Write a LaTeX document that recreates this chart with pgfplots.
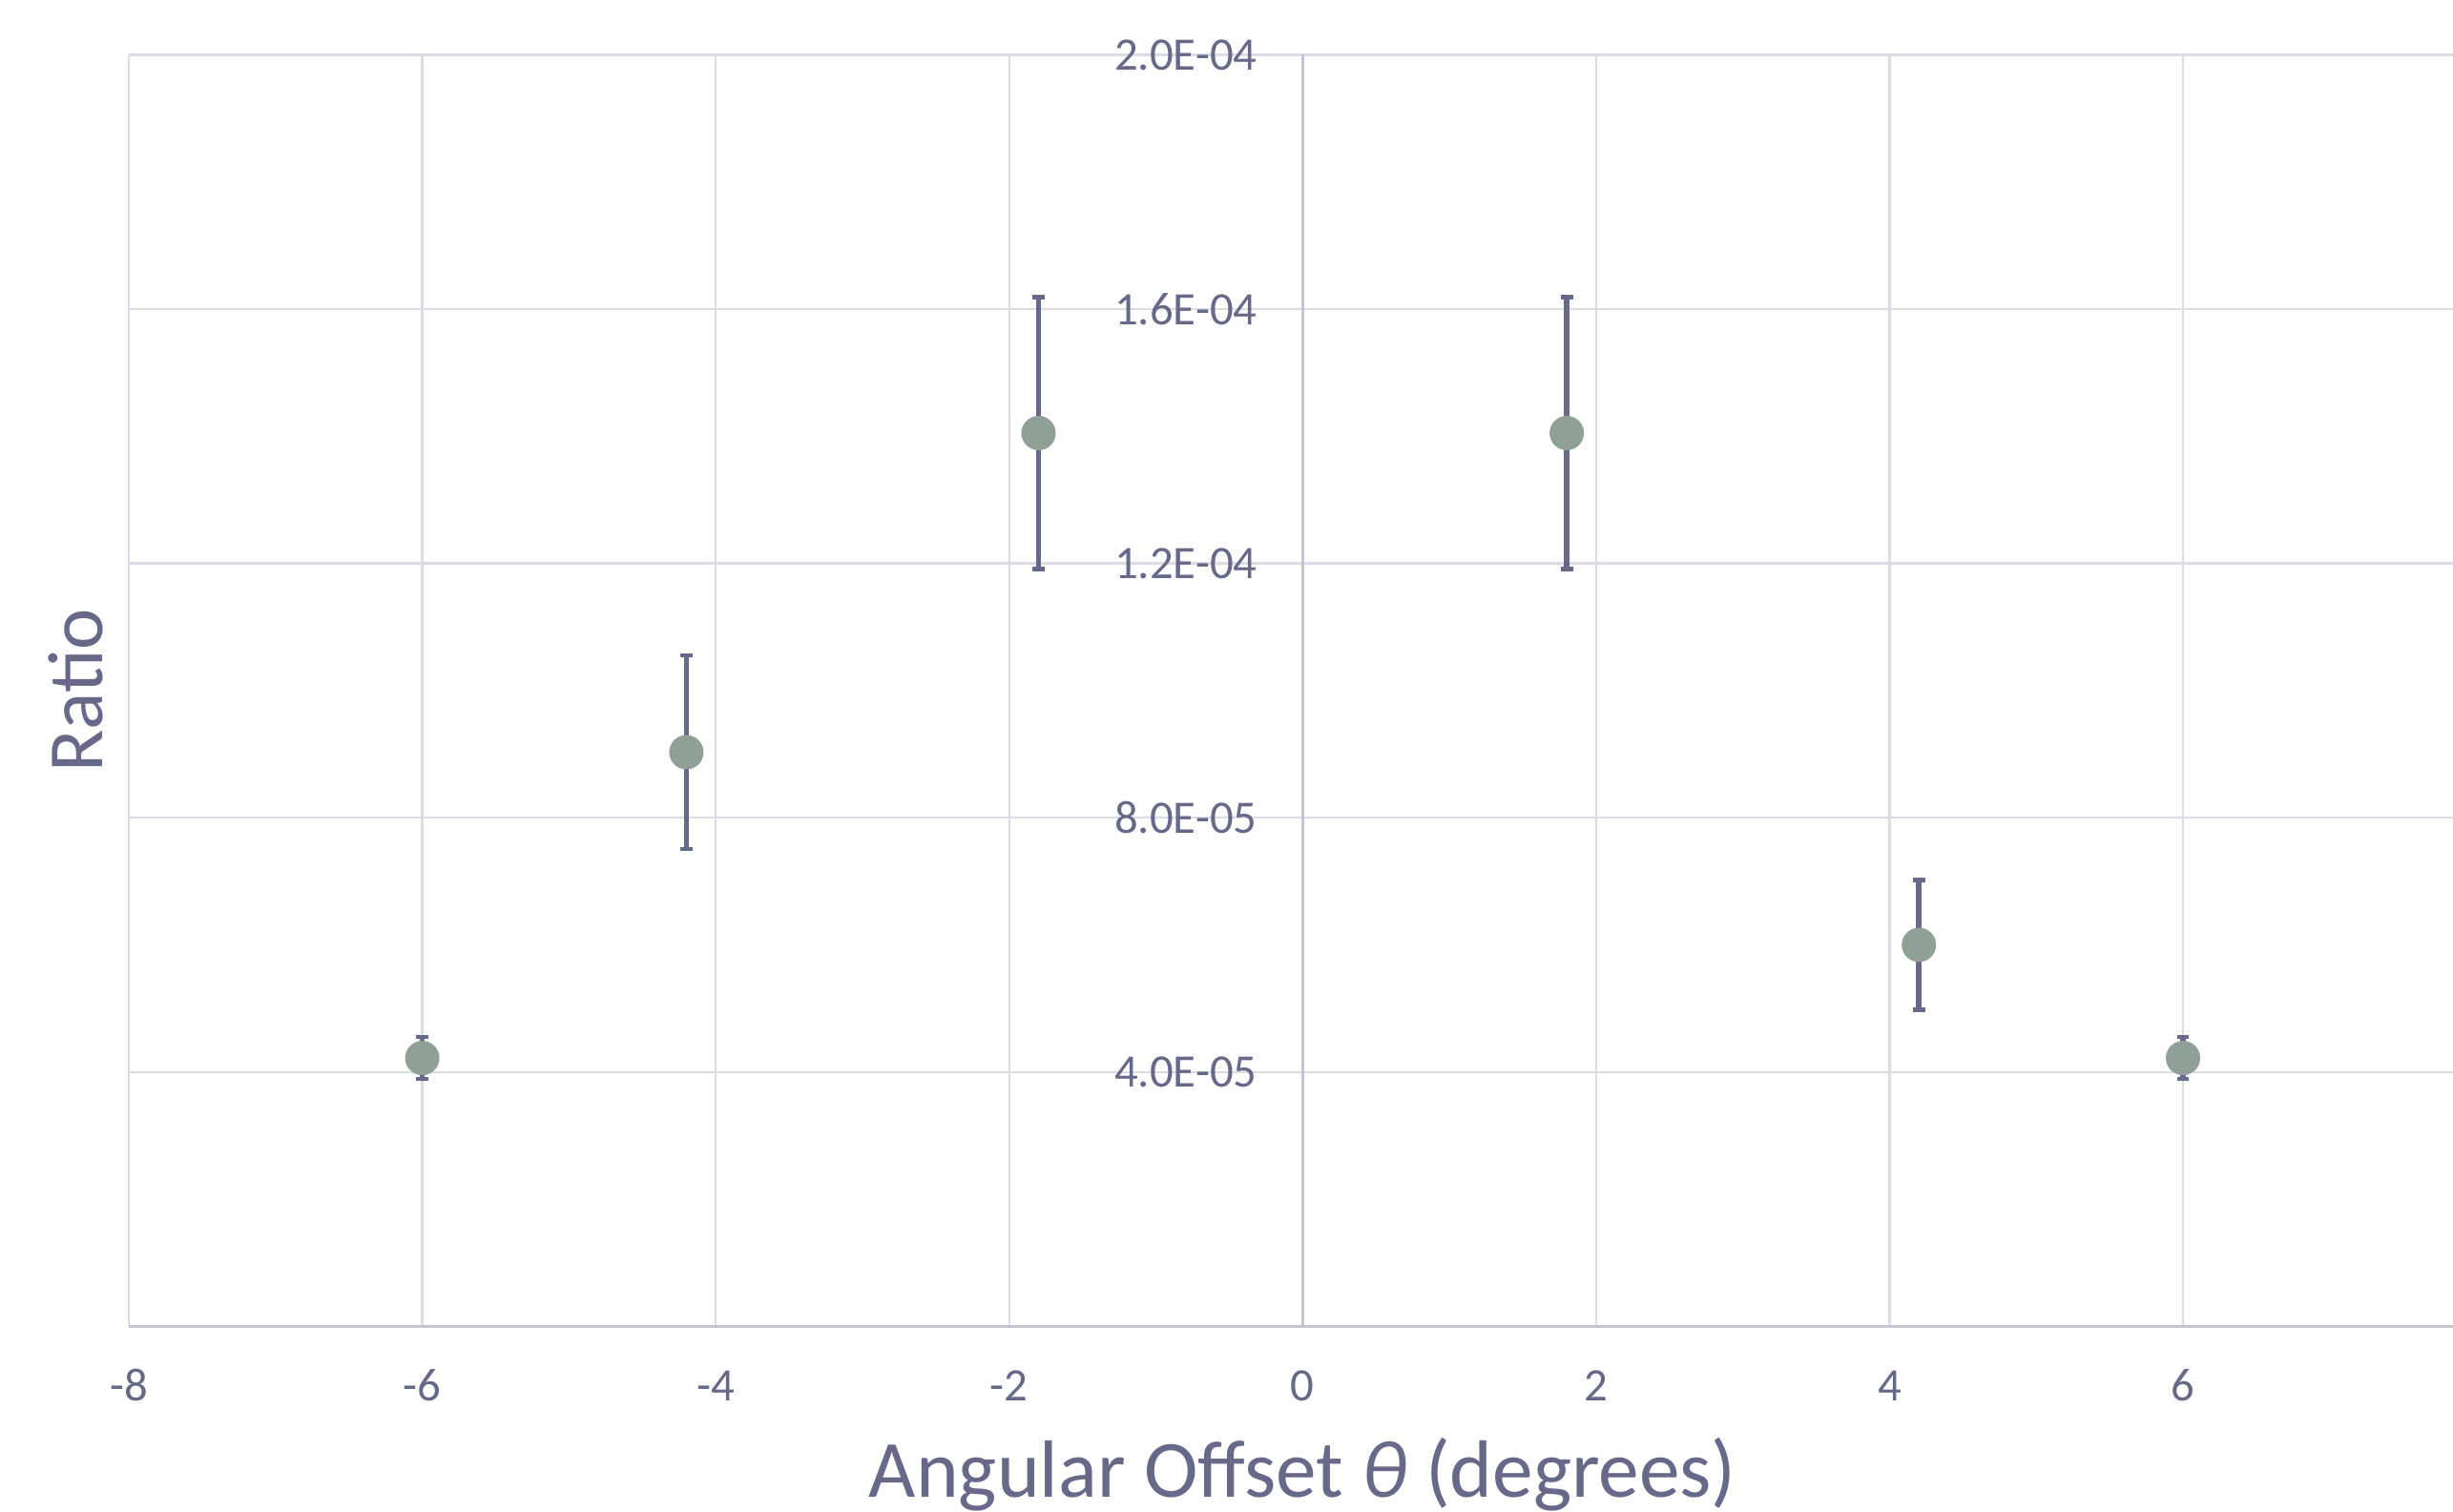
\documentclass[border=0pt]{standalone}
\usepackage{fontspec}
\setmainfont{Carlito}
\usepackage{pgfplots}
\pgfplotsset{compat=1.18}
\definecolor{txt}{RGB}{104,104,136}
\definecolor{gridc}{RGB}{220,220,228}
\definecolor{axc}{RGB}{196,196,210}
\definecolor{mk}{RGB}{143,160,150}
\definecolor{eb}{RGB}{104,104,138}
\begin{document}
\begin{tikzpicture}
\begin{axis}[
  scale only axis,
  width=609pt, height=333.25pt,
  xmin=-8, xmax=7.84, ymin=0, ymax=2e-4,
  enlargelimits=false,
  clip=false,
  axis x line=bottom, axis y line=middle,
  axis line style={-, draw=axc, line width=0.8pt},
  grid=major,
  major grid style={draw=gridc, line width=0.6pt},
  major tick length=0pt,
  xtick={-8,-6,-4,-2,0,2,4,6},
  xticklabels={-8,-6,-4,-2,0,2,4,6},
  ytick={0,4e-5,8e-5,1.2e-4,1.6e-4,2e-4},
  yticklabels={0.0E+00,4.0E-05,8.0E-05,1.2E-04,1.6E-04,2.0E-04},
  scaled y ticks=false,
  tick label style={font=\fontsize{12.2pt}{14pt}\selectfont, text=txt, inner sep=0pt},
  xticklabel style={anchor=base, yshift=-19.5pt},
  yticklabel style={anchor=east, xshift=-11.75pt},
]
\addplot[only marks, mark=*, mark size=4.3pt, mark options={fill=mk, draw=mk},
  error bars/.cd, y dir=both, y explicit,
  error bar style={line width=1.4pt, draw=eb},
  error mark options={rotate=90, mark size=1.6pt, line width=1.1pt, draw=eb}]
coordinates {
  (-6,4.22e-5) +- (0,3.3e-6)
  (-4.2,9.03e-5) +- (0,1.52e-5)
  (-1.8,1.405e-4) +- (0,2.14e-5)
  (1.8,1.405e-4) +- (0,2.14e-5)
  (4.2,6.0e-5) +- (0,1.02e-5)
  (6,4.22e-5) +- (0,3.3e-6)
};
\coordinate (SW) at (rel axis cs:0,0);
\coordinate (NE) at (rel axis cs:1,1);
\node[rotate=90, anchor=base, text=txt, font=\fontsize{20.5pt}{24pt}\selectfont, inner sep=0pt]
  at ([xshift=-6.75pt]rel axis cs:0,0.5) {Ratio};
\node[anchor=base, text=txt, font=\fontsize{21.3pt}{26pt}\selectfont, inner sep=0pt]
  at ([yshift=-44.9pt]axis cs:0,0) {Angular Offset \textit{θ} (degrees)};
\end{axis}
\pgfresetboundingbox
\useasboundingbox ([xshift=-33.75pt,yshift=-48.6pt]SW) rectangle ([yshift=14.35pt]NE);
\end{tikzpicture}
\end{document}
